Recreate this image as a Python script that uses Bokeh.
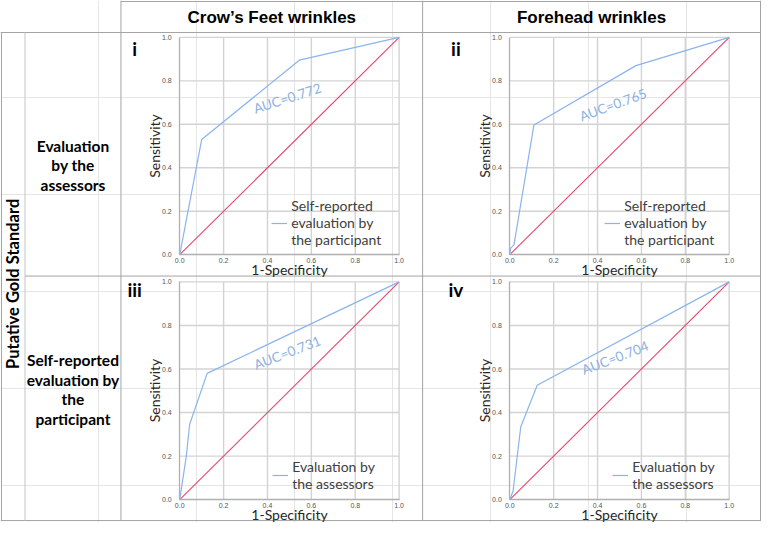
import math
from bokeh.plotting import figure
from bokeh.models import Range1d, LinearAxis, FixedTicker, NumeralTickFormatter, Legend, LegendItem
from bokeh.core.properties import value
from bokeh.embed import file_html
from bokeh.resources import INLINE

# ---------------- data ----------------
col_titles = ["Crow\u2019s Feet wrinkles", "Forehead wrinkles"]
row_titles = ["Evaluation\nby the\nassessors", "Self-reported\nevaluation by\nthe\nparticipant"]
side_title = "Putative Gold Standard"
panel_ids = ["i", "ii", "iii", "iv"]
legend_labels = ["Self-reported\nevaluation by\nthe participant",
                 "Self-reported\nevaluation by\nthe participant",
                 "Evaluation by\nthe assessors",
                 "Evaluation by\nthe assessors"]
auc_values = [0.772, 0.765, 0.731, 0.704]
tick_values = [0.0, 0.2, 0.4, 0.6, 0.8, 1.0]
x_label = "1-Specificity"
y_label = "Sensitivity"
ref_fpr = [0.0, 1.0]
ref_tpr = [0.0, 1.0]

fpr_i = [0.0, 0.10, 0.545, 1.0]
tpr_i = [0.0, 0.53, 0.895, 1.0]
fpr_ii = [0.0, 0.004, 0.019, 0.11, 0.575, 1.0]
tpr_ii = [0.0, 0.03, 0.045, 0.597, 0.87, 1.0]
fpr_iii = [0.0, 0.03, 0.045, 0.125, 1.0]
tpr_iii = [0.0, 0.20, 0.345, 0.58, 1.0]
fpr_iv = [0.0, 0.015, 0.05, 0.125, 1.0]
tpr_iv = [0.0, 0.04, 0.335, 0.525, 1.0]
curves = [(fpr_i, tpr_i), (fpr_ii, tpr_ii), (fpr_iii, tpr_iii), (fpr_iv, tpr_iv)]

# ---------------- layout (reference pixel space 777 x 538) ----------------
W, H = 761, 522
RW, RH = 777.0, 538.0
sx, sy = W / RW, H / RH

PANELS = [(183, 407, 38, 262), (520, 744, 38, 262),
          (183, 407, 290, 514.5), (520, 744, 290, 514.5)]
PANEL_LABEL_POS = [(137, 49), (465, 49), (137, 298), (465, 298)]
AUC_POS = [(0.49, 0.72, 18), (0.47, 0.69, 20), (0.49, 0.675, 21), (0.48, 0.652, 21)]
LEGEND_POS = [(277, 256), (617, 256), (278, 507), (625, 507)]
LEGEND_GLYPH_H = [14, 14, 30, 30]

BLUE = "#8ab4ee"
RED = "#e6476b"
AUC_COL = "#8eb1e2"
GRID = "#d3d3d3"
TABLE = "#a3a3a3"
TXT = "#262626"

p = figure(width=W, height=H, x_range=Range1d(0, RW), y_range=Range1d(RH, 0),
           output_backend="svg", toolbar_location=None,
           x_axis_location=None, y_axis_location=None,
           min_border=0, min_border_left=0, min_border_right=0,
           min_border_top=0, min_border_bottom=0)
p.outline_line_color = None
p.background_fill_color = "white"
p.border_fill_color = "white"

# table rules
hx0 = [123, 0, 25, 0]
hx1 = [RW, RW, RW, RW]
hy = [1, 33, 284, 536]
p.segment(x0=hx0, y0=hy, x1=hx1, y1=hy, line_color=TABLE, line_width=1)
vx = [1, 123, 431, 776]
vy0 = [33, 0, 0, 0]
vy1 = [536, 536, 536, 536]
p.segment(x0=vx, y0=vy0, x1=vx, y1=vy1, line_color=TABLE, line_width=1)
p.segment(x0=[25], y0=[33], x1=[25], y1=[536], line_color="#c4c4c4", line_width=1)

# headers
p.text(x=[277, 603.5], y=[18, 18], text=col_titles, text_align="center",
       text_baseline="middle", text_font=value("Liberation Sans"),
       text_font_style="bold", text_font_size="17px", text_color="black")
p.text(x=[74, 74], y=[170, 401], text=row_titles, text_align="center",
       text_baseline="middle", text_font=value("Lato"), text_font_style="bold",
       text_font_size="15.5px", text_color="black", text_line_height=1.08)
p.text(x=[13], y=[292], text=[side_title], angle=math.pi / 2, text_align="center",
       text_baseline="middle", text_font=value("Lato"), text_font_style="bold",
       text_font_size="16.5px", text_color="black")
p.text(x=[q[0] for q in PANEL_LABEL_POS], y=[q[1] for q in PANEL_LABEL_POS], text=panel_ids,
       text_align="center", text_baseline="middle", text_font=value("Lato"),
       text_font_style="bold", text_font_size="19px", text_color="black")

for k, (L, R, T, B) in enumerate(PANELS):
    xn, yn = f"px{k}", f"py{k}"
    p.extra_x_ranges[xn] = Range1d(start=(0 - L) / (R - L), end=(RW - L) / (R - L))
    p.extra_y_ranges[yn] = Range1d(start=(B - RH) / (B - T), end=B / (B - T))

    gt = tick_values[1:]
    p.segment(x0=gt, y0=[tick_values[0]] * len(gt), x1=gt, y1=[tick_values[-1]] * len(gt),
              x_range_name=xn, y_range_name=yn, line_color=GRID, line_width=1.4)
    p.segment(x0=[tick_values[0]] * len(gt), y0=gt, x1=[tick_values[-1]] * len(gt), y1=gt,
              x_range_name=xn, y_range_name=yn, line_color=GRID, line_width=1.4)

    for side, loc_axis in (("below", "x"), ("left", "y")):
        ax = LinearAxis(x_range_name=xn, y_range_name=yn, fixed_location=0, bounds=(0, 1),
                        ticker=FixedTicker(ticks=tick_values),
                        formatter=NumeralTickFormatter(format="0.0"),
                        axis_label=x_label if loc_axis == "x" else y_label,
                        axis_label_text_font="Lato",
                        axis_label_text_font_size="14px",
                        axis_label_text_font_style="normal",
                        axis_label_text_color=TXT,
                        major_label_text_font="Liberation Sans",
                        major_label_text_font_size="7px",
                        major_label_text_color="#555555",
                        major_tick_line_color=None, minor_tick_line_color=None,
                        major_tick_out=0, major_tick_in=0,
                        minor_tick_out=0, minor_tick_in=0,
                        axis_line_color="#b0b0b0", axis_line_width=1.3)
        if loc_axis == "x":
            ax.major_label_standoff = 3
            ax.axis_label_standoff = -5
        else:
            ax.major_label_standoff = 8
            ax.axis_label_standoff = -4
        p.add_layout(ax, side)

    p.line(ref_fpr, ref_tpr, x_range_name=xn, y_range_name=yn, line_color=RED, line_width=1.1)
    fx, fy = curves[k]
    r = p.line(fx, fy, x_range_name=xn, y_range_name=yn, line_color=BLUE, line_width=1.2)

    ax_, ay_, ang = AUC_POS[k]
    p.text(x=[ax_], y=[ay_], text=[f"AUC={auc_values[k]:.3f}"], angle=math.radians(ang),
           x_range_name=xn, y_range_name=yn, text_align="center", text_baseline="middle",
           text_font=value("Lato"), text_font_size="13.5px", text_color=AUC_COL)

    lx, lyb = LEGEND_POS[k]
    leg = Legend(items=[LegendItem(label=value(legend_labels[k]), renderers=[r])],
                 location=(lx * sx, (RH - lyb) * sy),
                 border_line_color=None, background_fill_alpha=0,
                 label_text_font="Lato", label_text_font_size="14px",
                 label_text_color="#404040", label_text_line_height=1.3,
                 glyph_width=16, glyph_height=LEGEND_GLYPH_H[k], label_standoff=4,
                 padding=0, spacing=0, margin=0)
    p.add_layout(leg, "center")

open("out.html", "w").write(file_html(p, INLINE))
